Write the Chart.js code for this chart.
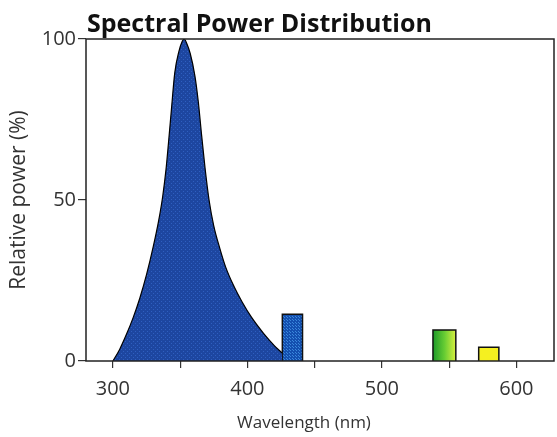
<!DOCTYPE html>
<html>
<head>
<meta charset="utf-8">
<script src="https://cdn.jsdelivr.net/npm/chart.js@4.4.1/dist/chart.umd.min.js"></script>
<style>
  html, body { margin: 0; padding: 0; background: #fff; }
  #wrap { width: 557px; height: 437px; position: relative; }
</style>
</head>
<body>
<div id="wrap"><canvas id="spdChart"></canvas></div>
<script>
// Main emission curve (wavelength nm, relative power %)
const curveWavelengths = [300, 305, 310, 315, 320, 325, 330, 334, 337, 339.5, 341.5, 343.5, 346, 349, 351.5, 353, 355, 357.5, 361, 363.5, 366, 368.5, 371.5, 375, 379.5, 384, 390, 396, 403, 412, 420, 426];
const curvePower      = [0,   3.6, 8.2, 13.4, 19.5, 26.8, 35.5, 43.5, 51,  59.5, 68.5, 78,  89.5, 96,  99.2, 100, 98.5, 95.5, 88.5, 80.5, 70,  60,  50,  42,  35,  29,  23.2, 18.4, 13.6, 8.6, 4.8, 2.4];

// Mercury line bars: center wavelength, width (nm), height (%)
const lineCenters = [433.5, 546.5, 579.5];
const lineWidths  = [15, 17, 15];
const lineHeights = [14.5, 9.6, 4.3];

const xTickLabels = [300, 400, 500, 600];
const yTickLabels = [0, 50, 100];

const textFont = '"Open Sans", "Noto Sans", sans-serif';

function dotPattern(base, dot, step) {
    const c = document.createElement('canvas');
    c.width = step; c.height = step;
    const g = c.getContext('2d');
    g.fillStyle = base;
    g.fillRect(0, 0, step, step);
    g.fillStyle = dot;
    g.fillRect(1, 1, 1, 1);
    g.fillRect(Math.floor(step / 2) + 1, Math.floor(step / 2) + 1, 1, 1);
    return g.createPattern(c, 'repeat');
}

const curvePoints = curveWavelengths.map((w, i) => ({ x: w, y: curvePower[i] }));

function barPoints(i) {
    const l = lineCenters[i] - lineWidths[i] / 2;
    const r = lineCenters[i] + lineWidths[i] / 2;
    return [{ x: l, y: 0 }, { x: l, y: lineHeights[i] }, { x: r, y: lineHeights[i] }, { x: r, y: 0 }];
}

function greenGradient(ctx) {
    const chart = ctx.chart;
    if (!chart.chartArea) return '#44bb33';
    const xs = chart.scales.x;
    const l = xs.getPixelForValue(lineCenters[1] - lineWidths[1] / 2);
    const r = xs.getPixelForValue(lineCenters[1] + lineWidths[1] / 2);
    const g = chart.ctx.createLinearGradient(l, 0, r, 0);
    g.addColorStop(0, '#1d9a2a');
    g.addColorStop(0.5, '#66cc33');
    g.addColorStop(1, '#d8f040');
    return g;
}

const barColors = [dotPattern('#1450b0', '#3a88dc', 3), greenGradient, '#f5f020'];

const boxPlugin = {
    id: 'box',
    afterDraw(chart) {
        const a = chart.chartArea;
        const c = chart.ctx;
        c.save();
        c.strokeStyle = '#222';
        c.lineWidth = 1.5;
        c.strokeRect(a.left, a.top, a.right - a.left, a.bottom - a.top);
        c.fillStyle = '#111';
        c.font = 'bold 25px ' + textFont;
        c.textBaseline = 'alphabetic';
        c.textAlign = 'left';
        c.fillText('Spectral Power Distribution', a.left + 1, 32);
        c.fillStyle = '#333';
        c.font = '17px ' + textFont;
        c.textAlign = 'center';
        c.textBaseline = 'middle';
        c.fillText('Wavelength (nm)', 304, 423);
        c.restore();
    }
};

const datasets = [{
    label: 'Curve',
    data: curvePoints,
    borderColor: '#000',
    borderWidth: 1.2,
    backgroundColor: dotPattern('#1d46a0', '#2f5fc0', 4),
    fill: 'origin',
    pointRadius: 0,
    cubicInterpolationMode: 'monotone'
}];
lineCenters.forEach((c, i) => {
    datasets.push({
        label: 'Line ' + c,
        data: barPoints(i),
        borderColor: '#111',
        borderWidth: 1.5,
        backgroundColor: barColors[i],
        fill: 'origin',
        pointRadius: 0,
        tension: 0
    });
});

new Chart(document.getElementById('spdChart'), {
    type: 'line',
    data: { datasets: datasets },
    options: {
        responsive: true,
        maintainAspectRatio: false,
        animation: false,
        layout: { padding: { top: 39, right: 3, left: 0, bottom: 0 } },
        plugins: { legend: { display: false }, tooltip: { enabled: false } },
        scales: {
            x: {
                type: 'linear',
                min: 280,
                max: 628,
                border: { display: false },
                grid: { drawOnChartArea: false, tickLength: 7, color: '#333', lineWidth: 1.2 },
                afterBuildTicks: s => { s.ticks = [300, 350, 400, 450, 500, 550, 600].map(v => ({ value: v })); },
                ticks: {
                    color: '#333',
                    font: { family: textFont, size: 20 },
                    padding: 9,
                    maxRotation: 0,
                    autoSkip: false,
                    callback: v => xTickLabels.includes(v) ? String(v) : ''
                },
                afterFit: s => { s.height = 76; }
            },
            y: {
                min: 0,
                max: 100,
                border: { display: false },
                grid: { drawOnChartArea: false, tickLength: 8, color: '#333', lineWidth: 1.2 },
                afterBuildTicks: s => { s.ticks = yTickLabels.map(v => ({ value: v })); },
                ticks: {
                    color: '#333',
                    font: { family: textFont, size: 20 },
                    padding: 2
                },
                title: {
                    display: true,
                    text: 'Relative power (%)',
                    color: '#333',
                    font: { family: textFont, size: 21 },
                    padding: { top: 6, bottom: 0 }
                },
                afterFit: s => { s.width = 86; }
            }
        }
    },
    plugins: [boxPlugin]
});
</script>
</body>
</html>
